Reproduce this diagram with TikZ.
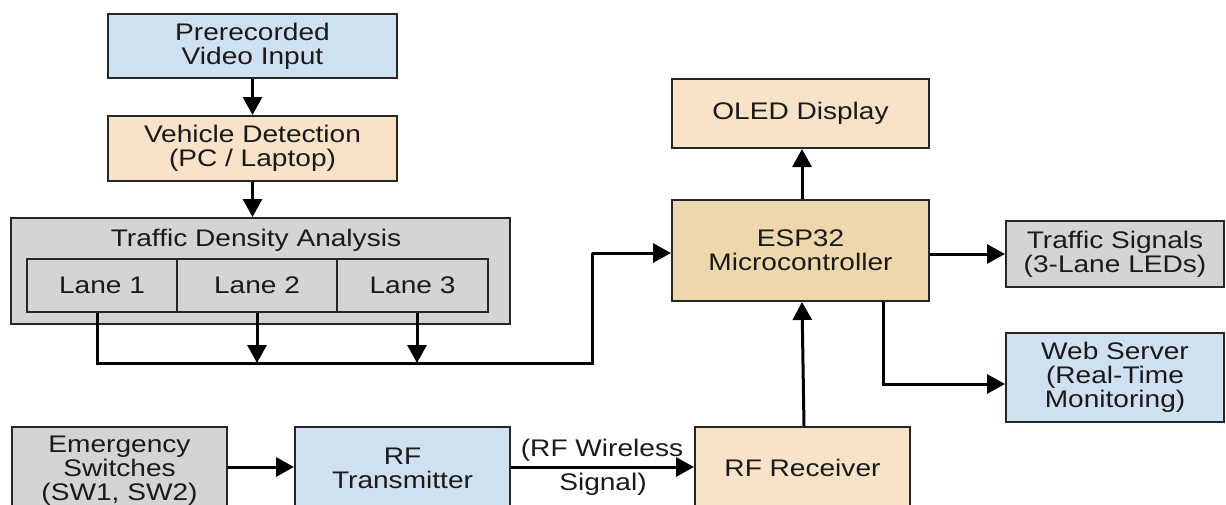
\documentclass[tikz,border=0pt]{standalone}
\usepackage{fontspec}
\setmainfont{Liberation Sans}[FakeStretch=1.17]
\usetikzlibrary{arrows.meta,calc}
\definecolor{cblue}{HTML}{CFE0F1}
\definecolor{corange}{HTML}{F8E2C8}
\definecolor{ctan}{HTML}{EDD8AE}
\definecolor{cgray}{HTML}{D4D4D4}
\definecolor{cline}{HTML}{262626}
\definecolor{ctext}{HTML}{1A1A1A}
\begin{document}
\begin{tikzpicture}[x=1pt,y=-1pt,
  box/.style={draw=cline, line width=2pt, inner sep=0pt, align=center, text=ctext,
    font=\fontsize{24}{24}\selectfont},
  conn/.style={draw=black, line width=3pt},
  arr/.style={conn, -{Triangle[length=18pt,width=19pt]}},
  lbl/.style={inner sep=0pt, text=ctext, font=\fontsize{24}{24}\selectfont}
]
\useasboundingbox (0,0) rectangle (1226,504);
\fill[white] (0,0) rectangle (1226,504);

% top-left chain
\node[box, fill=cblue, minimum width=289pt, minimum height=64pt] (pre) at (252.5,46) {Prerecorded\\Video Input};
\node[box, fill=corange, minimum width=289pt, minimum height=65pt] (veh) at (252.5,148.5) {Vehicle Detection\\(PC / Laptop)};

% traffic density analysis
\node[box, fill=cgray, minimum width=499pt, minimum height=106pt] (tda) at (260.5,271) {};
\node[lbl] (tdat) at (256,240) {Traffic Density Analysis};
\node[box, fill=cgray, minimum width=150pt, minimum height=53pt] (lane1) at (102,285.5) {Lane 1};
\node[box, fill=cgray, minimum width=160pt, minimum height=53pt] (lane2) at (257,285.5) {Lane 2};
\node[box, fill=cgray, minimum width=151pt, minimum height=53pt] (lane3) at (412.5,285.5) {Lane 3};

% right side
\node[box, fill=corange, minimum width=257pt, minimum height=69pt] (oled) at (800.5,113.5) {OLED Display};
\node[box, fill=ctan, minimum width=257pt, minimum height=101pt] (esp) at (800.5,250.5) {ESP32\\Microcontroller};
\node[box, fill=cgray, minimum width=218pt, minimum height=66pt] (ts) at (1115,254) {Traffic Signals\\(3-Lane LEDs)};
\node[box, fill=cblue, minimum width=218pt, minimum height=89pt] (web) at (1115,377.5) {Web Server\\(Real-Time\\Monitoring)};

% bottom row
\node[box, fill=cgray, minimum width=215pt, minimum height=88pt] (emg) at (119.5,471) {Emergency\\Switches\\(SW1, SW2)};
\node[box, fill=cblue, minimum width=215pt, minimum height=82pt] (rft) at (402.5,468) {RF\\Transmitter};
\node[box, fill=corange, minimum width=215pt, minimum height=82pt] (rfr) at (802.5,468) {RF Receiver};

% connectors
\draw[arr] (pre.south) -- (veh.north);
\draw[arr] (veh.south) -- (veh.south |- tda.north);

\coordinate (b1) at (97,363);
\coordinate (b2) at (257,363);
\coordinate (b3) at (417,363);
\coordinate (bx) at (592,363);
\coordinate (by) at (592,253);
\draw[conn, line join=miter] ([xshift=-5pt]lane1.south) -- (b1) -- (bx) -- (by);
\draw[arr] (by) -- (by -| esp.west);
\draw[arr] (lane2.south) -- (b2);
\draw[arr] ([xshift=4.5pt]lane3.south) -- (b3);

\draw[arr] ([xshift=1.5pt]esp.north) -- ([xshift=1.5pt]oled.south);
\draw[arr] (esp.east |- ts.west) -- (ts.west);
\coordinate (wc) at (883,384);
\draw[arr, line join=miter] (esp.south -| wc) -- (wc) -- (wc -| web.west);
\draw[arr] ([xshift=1.5pt]rfr.north) -- ([xshift=1.5pt]esp.south);

\draw[arr] (emg.east |- 0,467) -- (rft.west |- 0,467);
\draw[arr] (rft.east |- 0,467) -- (rfr.west |- 0,467);
\node[lbl] (rfl1) at (602,450) {(RF Wireless};
\node[lbl] (rfl2) at (603,484) {Signal)};
\end{tikzpicture}
\end{document}
